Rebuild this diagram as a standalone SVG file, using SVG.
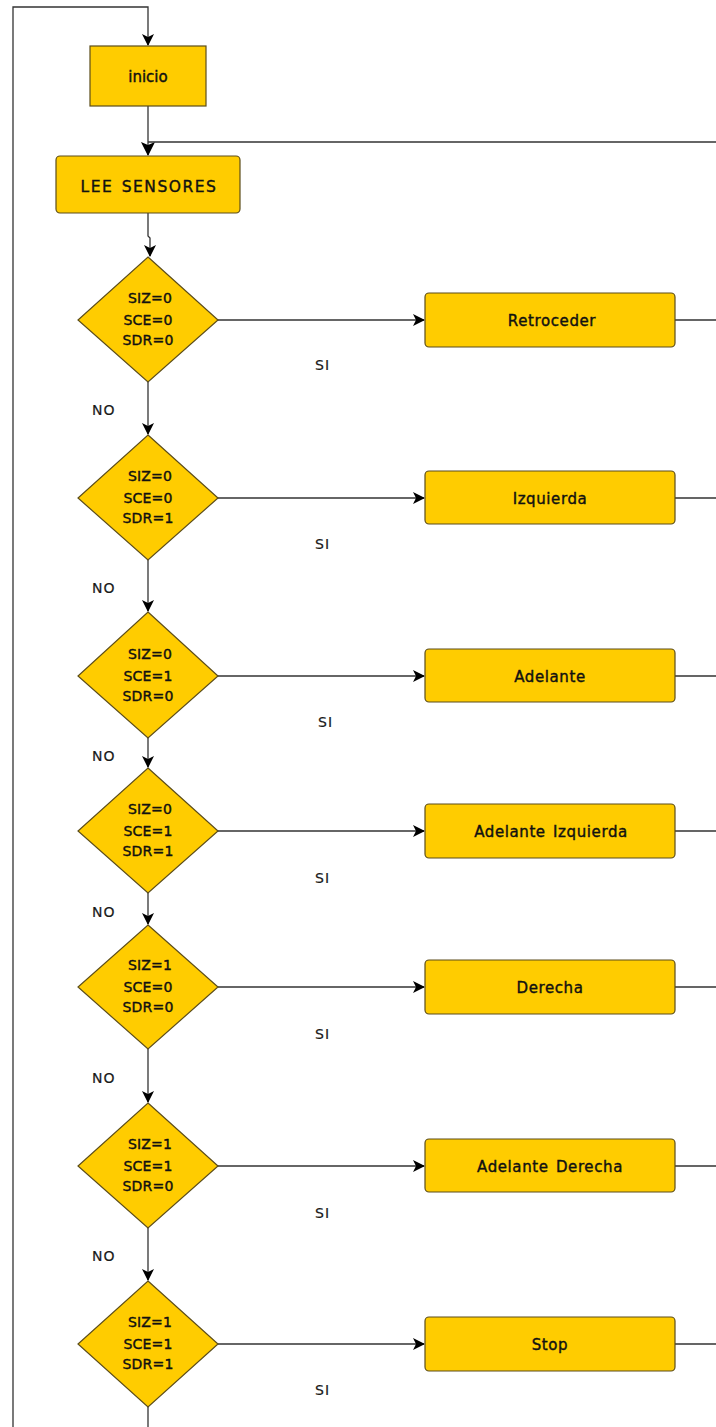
<svg xmlns="http://www.w3.org/2000/svg" width="716" height="1427" viewBox="0 0 716 1427">
<defs>
<marker id="arr" viewBox="0 0 12 12" refX="11" refY="6" markerWidth="12" markerHeight="12" markerUnits="userSpaceOnUse" orient="auto">
<path d="M0,0 L12,6 L0,12 L3,6 Z" fill="#000"/>
</marker>
<marker id="arrBig" viewBox="0 0 14 14" refX="13" refY="7" markerWidth="14" markerHeight="16" markerUnits="userSpaceOnUse" orient="auto">
<path d="M0,0 L14,7 L0,14 L3,7 Z" fill="#000"/>
</marker>
</defs>
<style>
.bx{fill:#FFCC00;stroke:#5c4d1a;stroke-width:1.2}
.ln{fill:none;stroke:#333;stroke-width:1.3}
.t{font-family:"DejaVu Sans",Verdana,sans-serif;font-size:15px;fill:#111;stroke:#111;stroke-width:0.4;text-anchor:middle;letter-spacing:0.6px;word-spacing:2px}
.d{font-family:"DejaVu Sans",Verdana,sans-serif;font-size:14px;fill:#111;stroke:#111;stroke-width:0.4;text-anchor:middle;letter-spacing:0.2px}
.lb{font-family:"DejaVu Sans",Verdana,sans-serif;font-size:14px;fill:#1a1a1a;stroke:#1a1a1a;stroke-width:0.2;letter-spacing:1px}
</style>
<rect width="716" height="1427" fill="#fff"/>
<g id="connectors">
<path class="ln" d="M148,1427 L148,1407"/>
<path class="ln" d="M13,1427 L13,7 L148,7 L148,45" marker-end="url(#arr)"/>
<path class="ln" d="M148,106 L148,155" marker-end="url(#arrBig)"/>
<path class="ln" d="M716,142 L148,142"/>
<path class="ln" d="M148,213 L148,236 L150,238 L150,256" marker-end="url(#arr)"/>
<path class="ln" d="M148,382 L148,434" marker-end="url(#arr)"/>
<path class="ln" d="M148,560 L148,611" marker-end="url(#arr)"/>
<path class="ln" d="M148,738 L148,767" marker-end="url(#arr)"/>
<path class="ln" d="M148,893 L148,924" marker-end="url(#arr)"/>
<path class="ln" d="M148,1049 L148,1102" marker-end="url(#arr)"/>
<path class="ln" d="M148,1228 L148,1280" marker-end="url(#arr)"/>
<path class="ln" d="M218,320 L424,320" marker-end="url(#arr)"/>
<path class="ln" d="M218,498 L424,498" marker-end="url(#arr)"/>
<path class="ln" d="M218,676 L424,676" marker-end="url(#arr)"/>
<path class="ln" d="M218,831 L424,831" marker-end="url(#arr)"/>
<path class="ln" d="M218,987 L424,987" marker-end="url(#arr)"/>
<path class="ln" d="M218,1166 L424,1166" marker-end="url(#arr)"/>
<path class="ln" d="M218,1344 L424,1344" marker-end="url(#arr)"/>
<path class="ln" d="M675,320 L716,320 M675,498 L716,498 M675,676 L716,676 M675,831 L716,831 M675,987 L716,987 M675,1166 L716,1166 M675,1344 L716,1344"/>
<text class="lb" x="315" y="370">SI</text>
<text class="lb" x="315" y="549">SI</text>
<text class="lb" x="318" y="727">SI</text>
<text class="lb" x="315" y="883">SI</text>
<text class="lb" x="315" y="1039">SI</text>
<text class="lb" x="315" y="1218">SI</text>
<text class="lb" x="315" y="1395">SI</text>
<text class="lb" x="92" y="415">NO</text>
<text class="lb" x="92" y="593">NO</text>
<text class="lb" x="92" y="761">NO</text>
<text class="lb" x="92" y="917">NO</text>
<text class="lb" x="92" y="1083">NO</text>
<text class="lb" x="92" y="1261">NO</text>
</g>
<g id="inicio"><rect class="bx" x="90" y="46" width="116" height="60"/><text class="t" x="148" y="82" style="letter-spacing:0">inicio</text></g>
<g id="lee"><rect class="bx" x="56" y="156" width="184" height="57" rx="4"/><text class="t" x="149" y="192" style="font-size:15.5px;letter-spacing:1.5px">LEE SENSORES</text></g>
<g id="d1"><polygon class="bx" points="148,257 218,320 148,382 78,320"/><text class="d" x="150" y="303">SIZ=0</text><text class="d" x="148" y="325">SCE=0</text><text class="d" x="148" y="345">SDR=0</text></g>
<g id="d2"><polygon class="bx" points="148,435 218,498 148,560 78,498"/><text class="d" x="150" y="481">SIZ=0</text><text class="d" x="148" y="503">SCE=0</text><text class="d" x="148" y="523">SDR=1</text></g>
<g id="d3"><polygon class="bx" points="148,612 218,676 148,738 78,676"/><text class="d" x="150" y="659">SIZ=0</text><text class="d" x="148" y="681">SCE=1</text><text class="d" x="148" y="701">SDR=0</text></g>
<g id="d4"><polygon class="bx" points="148,768 218,831 148,893 78,831"/><text class="d" x="150" y="814">SIZ=0</text><text class="d" x="148" y="836">SCE=1</text><text class="d" x="148" y="856">SDR=1</text></g>
<g id="d5"><polygon class="bx" points="148,925 218,987 148,1049 78,987"/><text class="d" x="150" y="970">SIZ=1</text><text class="d" x="148" y="992">SCE=0</text><text class="d" x="148" y="1012">SDR=0</text></g>
<g id="d6"><polygon class="bx" points="148,1103 218,1166 148,1228 78,1166"/><text class="d" x="150" y="1149">SIZ=1</text><text class="d" x="148" y="1171">SCE=1</text><text class="d" x="148" y="1191">SDR=0</text></g>
<g id="d7"><polygon class="bx" points="148,1281 218,1344 148,1407 78,1344"/><text class="d" x="150" y="1327">SIZ=1</text><text class="d" x="148" y="1349">SCE=1</text><text class="d" x="148" y="1369">SDR=1</text></g>
<g id="r1"><rect class="bx" x="425" y="293" width="250" height="54" rx="4"/><text class="t" x="552" y="326">Retroceder</text></g>
<g id="r2"><rect class="bx" x="425" y="471" width="250" height="53" rx="4"/><text class="t" x="550" y="504">Izquierda</text></g>
<g id="r3"><rect class="bx" x="425" y="649" width="250" height="53" rx="4"/><text class="t" x="550" y="682">Adelante</text></g>
<g id="r4"><rect class="bx" x="425" y="804" width="250" height="54" rx="4"/><text class="t" x="551" y="837">Adelante Izquierda</text></g>
<g id="r5"><rect class="bx" x="425" y="960" width="250" height="54" rx="4"/><text class="t" x="550" y="993">Derecha</text></g>
<g id="r6"><rect class="bx" x="425" y="1139" width="250" height="53" rx="4"/><text class="t" x="550" y="1172">Adelante Derecha</text></g>
<g id="r7"><rect class="bx" x="425" y="1317" width="250" height="54" rx="4"/><text class="t" x="550" y="1350">Stop</text></g>
</svg>
